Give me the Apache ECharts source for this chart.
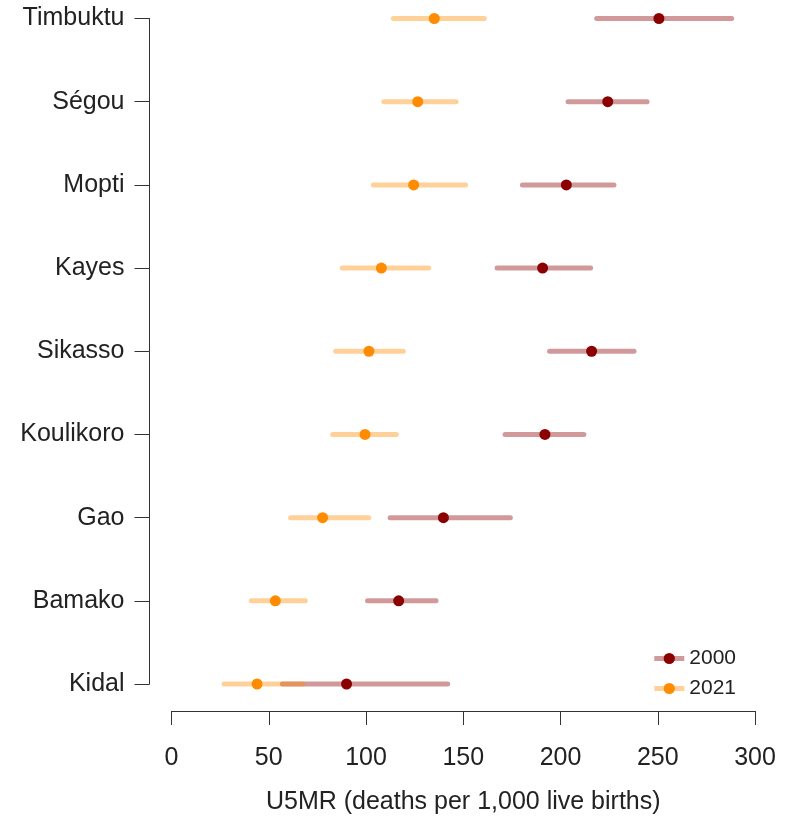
<!DOCTYPE html>
<html>
<head>
<meta charset="utf-8">
<script src="https://cdn.jsdelivr.net/npm/echarts@6/dist/echarts.min.js"></script>
<style>html,body{margin:0;padding:0;background:#fff}#c{width:788px;height:820px}</style>
</head>
<body>
<div id="c"></div>
<script>
var regions = ["Kidal","Bamako","Gao","Koulikoro","Sikasso","Kayes","Mopti","Ségou","Timbuktu"];
var xTicks = [0,50,100,150,200,250,300];
var est2000 = [90, 116.8, 139.8, 192, 216, 190.8, 203, 224.3, 250.6];
var lo2000  = [57, 100.8, 112.4, 171.5, 194.4, 167.4, 180.4, 203.9, 218.6];
var hi2000  = [142, 136, 174.2, 212, 237.8, 215.5, 227.5, 244.5, 288];
var est2021 = [44, 53.4, 77.7, 99.5, 101.5, 107.9, 124.5, 126.6, 135.1];
var lo2021  = [27, 41, 61.2, 82.9, 84.4, 87.8, 103.8, 109.2, 114.1];
var hi2021  = [67.4, 68.8, 101.4, 115.6, 119.2, 132.2, 151.2, 146.3, 160.8];

var col2000 = '#8B0000', pale2000 = 'rgba(139,0,0,0.4)';
var col2021 = '#FF8C00', pale2021 = 'rgba(255,140,0,0.4)';
var FONT = 'Liberation Sans';

function ciData(lo, hi){ return regions.map(function(r,i){ return [lo[i], hi[i], i]; }); }
function ptData(v){ return regions.map(function(r,i){ return [v[i], i]; }); }
function ciSeries(name, lo, hi, color){
  return {
    type:'custom', name:name, data:ciData(lo,hi),
    encode:{x:[0,1], y:2},
    renderItem:function(params, api){
      var a = api.coord([api.value(0), api.value(2)]);
      var b = api.coord([api.value(1), api.value(2)]);
      return {type:'line', shape:{x1:a[0],y1:a[1],x2:b[0],y2:b[1]},
        style:{stroke:color, lineWidth:5, lineCap:'round'}};
    }
  };
}

var chart = echarts.init(document.getElementById('c'), null, {renderer:'canvas'});
chart.setOption({
  animation:false,
  grid:{left:171.5, right:33, top:18.5, bottom:131.5, containLabel:false},
  legend:{
    orient:'vertical', right:47, top:643, data:['2000','2021'],
    itemWidth:30, itemHeight:14, itemGap:9, selectedMode:false,
    lineStyle:{width:5},
    textStyle:{fontFamily:FONT, fontSize:21, color:'#222'}
  },
  xAxis:{
    type:'value', min:0, max:300, interval:50, offset:27,
    axisLine:{show:true, onZero:false, lineStyle:{color:'#333', width:1}},
    axisTick:{show:true, length:14, lineStyle:{color:'#333'}},
    splitLine:{show:false},
    axisLabel:{fontFamily:FONT, fontSize:25, color:'#222', margin:35,
      formatter:function(v){ return xTicks.indexOf(v)>=0 ? String(v) : ''; }},
    name:'U5MR (deaths per 1,000 live births)', nameLocation:'middle', nameGap:79,
    nameTextStyle:{fontFamily:FONT, fontSize:25, color:'#222'}
  },
  yAxis:{
    type:'category', data:regions, boundaryGap:false, offset:22,
    axisLine:{show:true, onZero:false, lineStyle:{color:'#333', width:1}},
    axisTick:{show:true, length:15, alignWithLabel:true, lineStyle:{color:'#333'}},
    splitLine:{show:false},
    axisLabel:{fontFamily:FONT, fontSize:25, color:'#222', margin:25, interval:0}
  },
  series:[
    {type:'line', name:'2000', data:[], symbol:'circle', symbolSize:11,
      itemStyle:{color:col2000}, lineStyle:{color:pale2000, width:5}},
    {type:'line', name:'2021', data:[], symbol:'circle', symbolSize:11,
      itemStyle:{color:col2021}, lineStyle:{color:pale2021, width:5}},
    ciSeries('2000', lo2000, hi2000, pale2000),
    ciSeries('2021', lo2021, hi2021, pale2021),
    {type:'scatter', name:'2000', data:ptData(est2000), symbol:'circle', symbolSize:11,
      itemStyle:{color:col2000, opacity:1}},
    {type:'scatter', name:'2021', data:ptData(est2021), symbol:'circle', symbolSize:11,
      itemStyle:{color:col2021, opacity:1}}
  ]
});
</script>
</body>
</html>
